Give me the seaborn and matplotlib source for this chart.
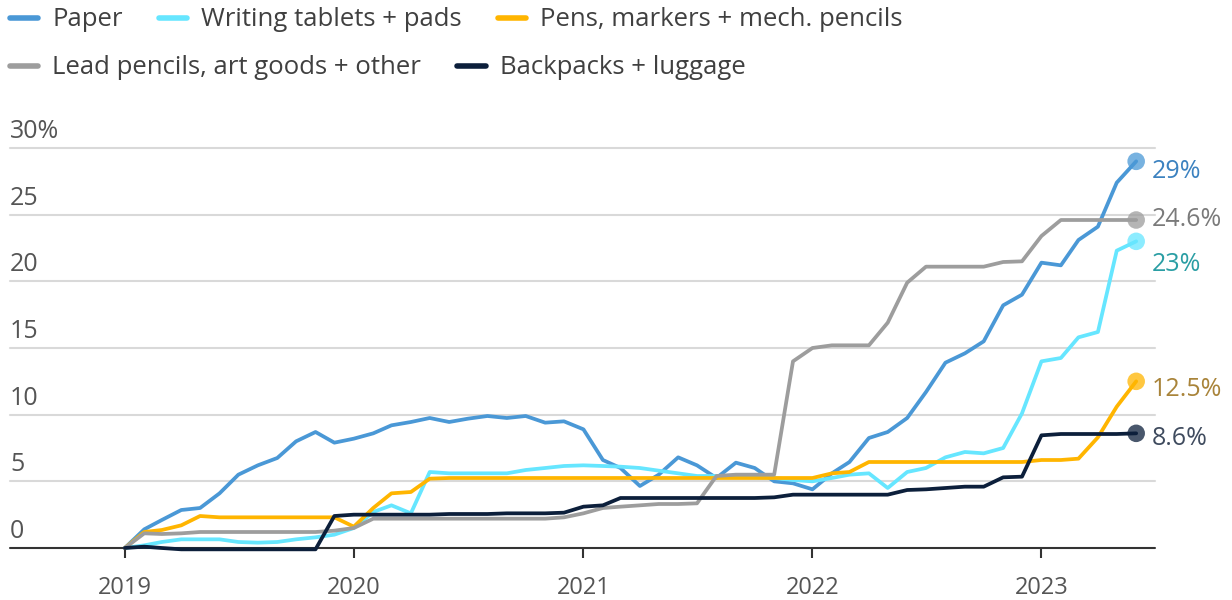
import pandas as pd
import matplotlib.pyplot as plt
import matplotlib.transforms as mtransforms
from matplotlib.lines import Line2D
import seaborn as sns

# Monthly cumulative price change since Jan 2019 (%), Jan 2019 .. Jun 2023
months = pd.date_range('2019-01-01', periods=54, freq='MS')

paper = [0, 1.4, 2.1, 2.85, 3.0, 4.1, 5.5, 6.2, 6.75, 8.0, 8.7, 7.9,
         8.2, 8.6, 9.2, 9.45, 9.75, 9.45, 9.7, 9.9, 9.75, 9.9, 9.4, 9.5,
         8.9, 6.6, 6.0, 4.65, 5.5, 6.8, 6.2, 5.25, 6.4, 6.0, 5.0, 4.85,
         4.4, 5.6, 6.45, 8.25, 8.7, 9.75, 11.7, 13.9, 14.6, 15.5, 18.2, 19.0,
         21.4, 21.2, 23.1, 24.1, 27.4, 29.0]
tablets = [0, 0.2, 0.45, 0.65, 0.65, 0.65, 0.45, 0.4, 0.45, 0.65, 0.8, 1.0,
           1.5, 2.7, 3.2, 2.6, 5.7, 5.6, 5.6, 5.6, 5.6, 5.85, 6.0, 6.15,
           6.2, 6.15, 6.1, 6.0, 5.8, 5.6, 5.4, 5.4, 5.35, 5.3, 5.25, 5.1,
           5.0, 5.25, 5.5, 5.6, 4.5, 5.7, 6.0, 6.8, 7.2, 7.1, 7.5, 10.1,
           14.0, 14.25, 15.8, 16.2, 22.3, 23.0]
pens = [0, 1.2, 1.35, 1.7, 2.4, 2.3, 2.3, 2.3, 2.3, 2.3, 2.3, 2.3,
        1.6, 3.0, 4.1, 4.2, 5.2, 5.25, 5.25, 5.25, 5.25, 5.25, 5.25, 5.25,
        5.25, 5.25, 5.25, 5.25, 5.25, 5.25, 5.25, 5.25, 5.25, 5.25, 5.25, 5.25,
        5.25, 5.6, 5.7, 6.45, 6.45, 6.45, 6.45, 6.45, 6.45, 6.45, 6.45, 6.45,
        6.6, 6.6, 6.7, 8.3, 10.6, 12.5]
lead = [0, 1.1, 1.05, 1.1, 1.2, 1.2, 1.2, 1.2, 1.2, 1.2, 1.2, 1.3,
        1.5, 2.2, 2.2, 2.2, 2.2, 2.2, 2.2, 2.2, 2.2, 2.2, 2.2, 2.3,
        2.6, 3.0, 3.1, 3.2, 3.3, 3.3, 3.35, 5.4, 5.5, 5.5, 5.5, 14.0,
        15.0, 15.2, 15.2, 15.2, 16.9, 19.9, 21.1, 21.1, 21.1, 21.1, 21.45, 21.5,
        23.4, 24.6, 24.6, 24.6, 24.6, 24.6]
backpacks = [0, 0.1, 0.0, -0.1, -0.1, -0.1, -0.1, -0.1, -0.1, -0.1, -0.1, 2.4,
             2.5, 2.5, 2.5, 2.5, 2.5, 2.55, 2.55, 2.55, 2.6, 2.6, 2.6, 2.65,
             3.1, 3.2, 3.75, 3.75, 3.75, 3.75, 3.75, 3.75, 3.75, 3.75, 3.8, 4.0,
             4.0, 4.0, 4.0, 4.0, 4.0, 4.35, 4.4, 4.5, 4.6, 4.6, 5.3, 5.35,
             8.45, 8.55, 8.55, 8.55, 8.55, 8.6]

series_names = ['Paper', 'Writing tablets + pads', 'Pens, markers + mech. pencils',
                'Lead pencils, art goods + other', 'Backpacks + luggage']
series_values = [paper, tablets, pens, lead, backpacks]
line_colors = ['#4a98d6', '#66e6ff', '#ffb500', '#9d9d9d', '#0c1f3b']
label_colors = ['#3c82c0', '#2a9ea4', '#a9843a', '#7a7a7a', '#3f4b5e']
end_labels = ['29%', '23%', '12.5%', '24.6%', '8.6%']
label_offsets = [(11, -7), (11, -17), (11, -6), (11, 0), (11, -4)]  # points

y_ticks = [0, 5, 10, 15, 20, 25, 30]
y_tick_labels = ['0', '5', '10', '15', '20', '25', '30%']
year_ticks = pd.to_datetime(['2019-01-01', '2020-01-01', '2021-01-01',
                             '2022-01-01', '2023-01-01'])

df = pd.DataFrame({
    'month': list(months) * len(series_names),
    'category': [n for n in series_names for _ in months],
    'change': [v for vals in series_values for v in vals],
})

sns.set_theme(style='white')
plt.rcParams['font.family'] = ['Open Sans', 'DejaVu Sans']
text_color = '#555555'
fs = 18

fig = plt.figure(figsize=(12.32, 6), dpi=100)
ax = fig.add_axes([10 / 1232, 1 - 548 / 600, 1145 / 1232, 400 / 600])

for v in y_ticks[1:]:
    ax.axhline(v, color='#d9d9d9', lw=1.5, zorder=0)
ax.axhline(0, color='#333333', lw=1.5, zorder=1)

palette = dict(zip(series_names, line_colors))
sns.lineplot(data=df, x='month', y='change', hue='category', hue_order=series_names,
             palette=palette, linewidth=2.7, legend=False, ax=ax, zorder=3)
for ln in ax.lines:
    ln.set_clip_on(False)
    ln.set_solid_capstyle('round')
    ln.set_solid_joinstyle('round')

# end markers and value labels
for vals, col, lab_col, lab, off in zip(series_values, line_colors, label_colors,
                                        end_labels, label_offsets):
    ax.scatter([months[-1]], [vals[-1]], s=160, color=col, alpha=0.75, zorder=4,
               clip_on=False, edgecolor='none')
    ax.annotate(lab, (months[-1], vals[-1]), xytext=off, textcoords='offset points',
                color=lab_col, fontsize=fs, va='center', ha='left', annotation_clip=False)

ax.set_ylim(0, 30)
ax.set_xlim(pd.Timestamp('2018-07-02'), pd.Timestamp('2023-07-01'))
ax.set_xticks(year_ticks)
ax.set_xticklabels([str(d.year) for d in year_ticks], color=text_color, fontsize=17)
ax.tick_params(axis='x', bottom=True, length=7, width=1.5, color='#333333', pad=13)
ax.set_yticks([])
ax.set_xlabel('')
ax.set_ylabel('')
for sp in ax.spines.values():
    sp.set_visible(False)

trans = mtransforms.blended_transform_factory(ax.transAxes, ax.transData)
for v, lab in zip(y_ticks, y_tick_labels):
    ax.text(0, v + 0.3, lab, transform=trans, ha='left', va='bottom',
            color=text_color, fontsize=fs)

# legend in two rows
handles = [Line2D([0], [0], color=c, lw=4, solid_capstyle='round') for c in line_colors]
leg_kw = dict(frameon=False, fontsize=18.5, handlelength=1.1, handletextpad=0.55,
              columnspacing=1.4, borderaxespad=0, borderpad=0, labelcolor='#404040')
leg1 = fig.legend(handles[:3], series_names[:3], ncol=3, loc='center left',
                  bbox_to_anchor=(10 / 1232, 1 - 20 / 600), **leg_kw)
leg2 = fig.legend(handles[3:], series_names[3:], ncol=2, loc='center left',
                  bbox_to_anchor=(10 / 1232, 1 - 68 / 600), **leg_kw)

fig.savefig('out.png', dpi=100)
